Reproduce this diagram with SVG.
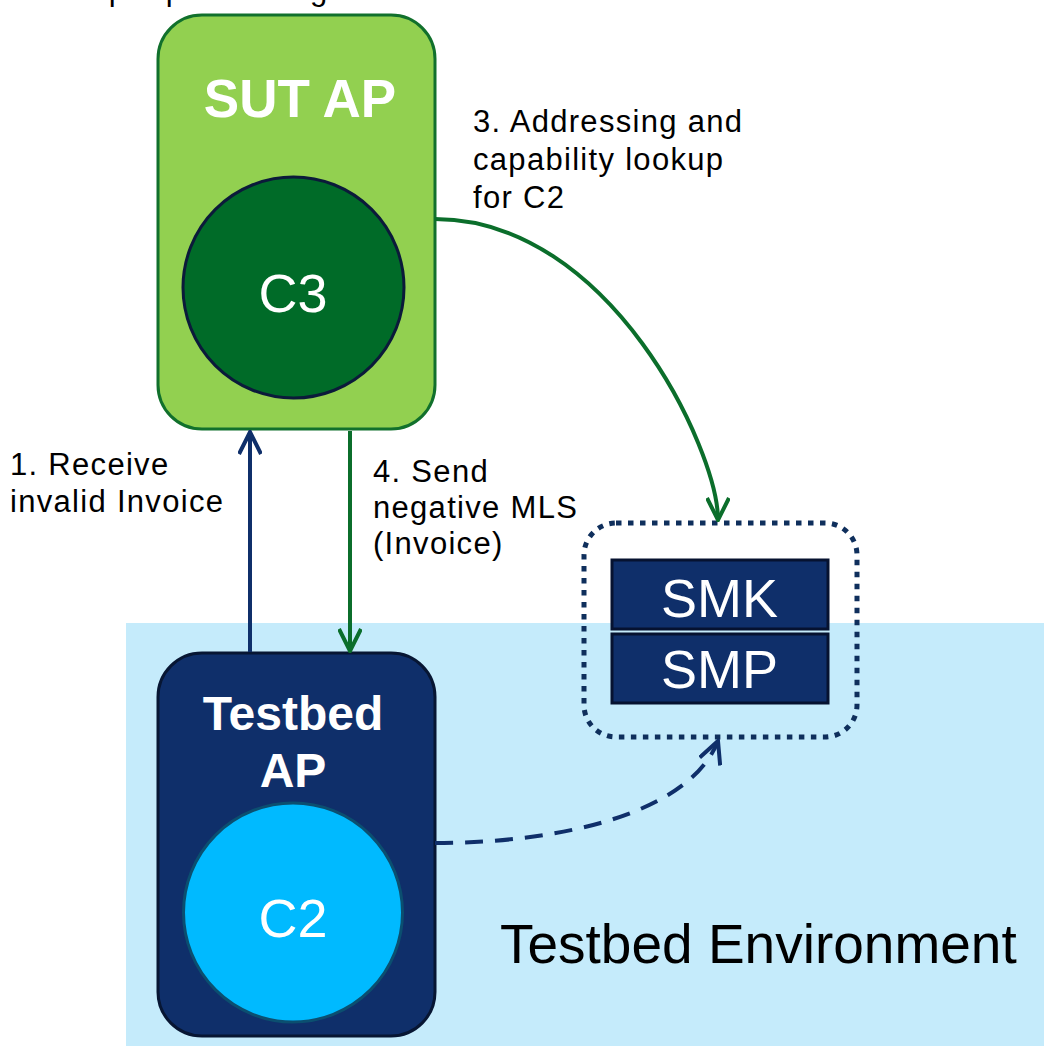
<svg xmlns="http://www.w3.org/2000/svg" width="1044" height="1046" viewBox="0 0 1044 1046">
<defs>
<style>
.lbl{font-family:"Liberation Sans",Arial,sans-serif;font-size:31px;letter-spacing:1.3px;fill:#000}
.title{font-family:"Liberation Sans",Arial,sans-serif;font-weight:bold;fill:#fff;text-anchor:middle}
.inner{font-family:"Liberation Sans",Arial,sans-serif;fill:#fff;text-anchor:middle;font-size:54px}
.g{fill:none;stroke:#0B6E2B;stroke-width:4}
.n{fill:none;stroke:#0F2F6A;stroke-width:4}
</style>
<marker id="ag" viewBox="0 0 26 24" refX="24" refY="12" markerWidth="26" markerHeight="24" markerUnits="userSpaceOnUse" orient="auto">
<path d="M2,1 L24,12 L2,23" fill="none" stroke="#0B6E2B" stroke-width="4"/>
</marker>
<marker id="an" viewBox="0 0 26 24" refX="24" refY="12" markerWidth="26" markerHeight="24" markerUnits="userSpaceOnUse" orient="auto">
<path d="M2,1 L24,12 L2,23" fill="none" stroke="#0F2F6A" stroke-width="4"/>
</marker>
</defs>
<rect width="1044" height="1046" fill="#fff"/>
<g id="env">
<rect x="126" y="623" width="918" height="423" fill="#C5EBFB"/>
<text x="500" y="963" font-family="Liberation Sans, Arial, sans-serif" font-size="55" fill="#000">Testbed Environment</text>
</g>
<g id="label2"><text class="lbl" x="42" y="0">2. Input processing</text></g>
<g id="sut">
<rect x="158" y="15" width="277" height="414" rx="44" fill="#92D050" stroke="#11702C" stroke-width="3"/>
<text class="title" x="300" y="117" font-size="53">SUT AP</text>
</g>
<g id="c3">
<circle cx="293.5" cy="287.5" r="110.5" fill="#006B28" stroke="#0B1A3A" stroke-width="3"/>
<text class="inner" x="293" y="312">C3</text>
</g>
<g id="testbed">
<rect x="158" y="653" width="277" height="383" rx="44" fill="#0F2F6A" stroke="#071633" stroke-width="3"/>
<text class="title" x="293" y="730" font-size="48">Testbed</text>
<text class="title" x="293" y="787" font-size="48">AP</text>
</g>
<g id="c2">
<circle cx="293" cy="912.5" r="109.5" fill="#00BAFF" stroke="#0B4F70" stroke-width="3"/>
<text class="inner" x="293" y="937">C2</text>
</g>
<g id="registry">
<rect x="584" y="523" width="273" height="214" rx="32" fill="none" stroke="#0F2F5C" stroke-width="5" stroke-dasharray="5.5 6.5"/>
</g>
<g id="smk">
<rect x="612" y="560" width="216" height="69" fill="#0F2F6A" stroke="#061230" stroke-width="3"/>
<text class="inner" x="719.5" y="617">SMK</text>
</g>
<g id="smp">
<rect x="612" y="634" width="216" height="69" fill="#0F2F6A" stroke="#061230" stroke-width="3"/>
<text class="inner" x="719.5" y="688">SMP</text>
</g>
<g id="connectors">
<path class="n" d="M250,652 L250,432" marker-end="url(#an)"/>
<path class="g" d="M350,431 L350,651" marker-end="url(#ag)"/>
<path class="g" d="M435,219 C610,219 718,450 718,520" marker-end="url(#ag)"/>
<path class="n" d="M435,843 C565,843 690,812 718,741" stroke-width="4.5" stroke-dasharray="18 12" marker-end="url(#an)"/>
</g>
<g id="labels">
<text class="lbl"><tspan x="473" y="132">3. Addressing and</tspan><tspan x="473" y="170">capability lookup</tspan><tspan x="473" y="208">for C2</tspan></text>
<text class="lbl"><tspan x="10" y="475">1. Receive</tspan><tspan x="10" y="512">invalid Invoice</tspan></text>
<text class="lbl"><tspan x="373" y="482">4. Send</tspan><tspan x="373" y="518">negative MLS</tspan><tspan x="373" y="554">(Invoice)</tspan></text>
</g>
</svg>
